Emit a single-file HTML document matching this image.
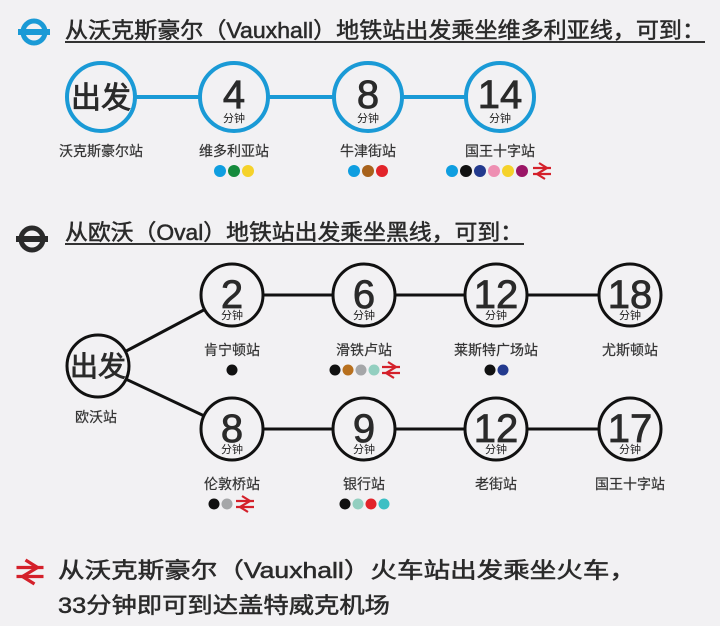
<!DOCTYPE html>
<html><head><meta charset="utf-8"><style>
html,body{margin:0;padding:0;background:#f2f1f3;}
svg{display:block;}
text{font-family:"Liberation Sans","Noto Sans CJK SC",sans-serif;fill:#222;}
.t{font-size:22px;fill:#2a2a2a;stroke:#2a2a2a;stroke-width:0.5;}
.n{font-size:40px;text-anchor:middle;fill:#2a2a2a;stroke:#2a2a2a;stroke-width:0.8;}
.s{font-size:11px;text-anchor:middle;}
.l{font-size:14px;text-anchor:middle;fill:#333;stroke:#333;stroke-width:0.2;}
</style></head><body>
<svg width="720" height="626" viewBox="0 0 720 626" xmlns="http://www.w3.org/2000/svg">
<defs>
<g id="rail">
<path d="M-9,-3 H9 M-9,3 H9" stroke="#d4202a" stroke-width="2.2" fill="none"/>
<path d="M-3,-8 L5,-3 L-5,3 L3,8" stroke="#d4202a" stroke-width="2.2" fill="none"/>
</g>
</defs>
<!-- Section 1 -->
<g>
<circle cx="34" cy="32" r="11" fill="none" stroke="#1a9ad6" stroke-width="5"/>
<rect x="18" y="29" width="32" height="6" fill="#1a9ad6"/>
</g>
<text class="t" x="65" y="38" textLength="640" lengthAdjust="spacingAndGlyphs">从沃克斯豪尔（Vauxhall）地铁站出发乘坐维多利亚线，可到：</text>
<line x1="65" y1="42" x2="705" y2="42" stroke="#333" stroke-width="2"/>
<line x1="101" y1="97" x2="500" y2="97" stroke="#1a9ad6" stroke-width="4"/>
<g fill="#f2f1f3" stroke="#1a9ad6" stroke-width="4">
<circle cx="101" cy="97" r="34"/><circle cx="234" cy="97" r="34"/><circle cx="368" cy="97" r="34"/><circle cx="500" cy="97" r="34"/>
</g>
<text x="101" y="108" style="font-size:30px;text-anchor:middle;fill:#2a2a2a;stroke:#2a2a2a;stroke-width:0.8">出发</text>
<text class="n" x="234" y="108">4</text><text class="s" x="234" y="122">分钟</text>
<text class="n" x="368" y="108">8</text><text class="s" x="368" y="122">分钟</text>
<text class="n" x="500" y="108">14</text><text class="s" x="500" y="122">分钟</text>
<text class="l" x="101" y="156">沃克斯豪尔站</text>
<text class="l" x="234" y="156">维多利亚站</text>
<text class="l" x="368" y="156">牛津街站</text>
<text class="l" x="500" y="156">国王十字站</text>
<circle cx="220" cy="171" r="6" fill="#0f9ee0"/><circle cx="234" cy="171" r="6" fill="#158a3c"/><circle cx="248" cy="171" r="6" fill="#f5d22a"/>
<circle cx="354" cy="171" r="6" fill="#0f9ee0"/><circle cx="368" cy="171" r="6" fill="#a8621b"/><circle cx="382" cy="171" r="6" fill="#e2242a"/>
<circle cx="452" cy="171" r="6" fill="#0f9ee0"/><circle cx="466" cy="171" r="6" fill="#111"/><circle cx="480" cy="171" r="6" fill="#233a8e"/><circle cx="494" cy="171" r="6" fill="#ee8fb2"/><circle cx="508" cy="171" r="6" fill="#f5d22a"/><circle cx="522" cy="171" r="6" fill="#9b1566"/>
<use href="#rail" x="542" y="171"/>
<!-- Section 2 -->
<g>
<circle cx="32" cy="239" r="11" fill="none" stroke="#2a2a2a" stroke-width="5"/>
<rect x="16" y="236" width="32" height="6" fill="#2a2a2a"/>
</g>
<text class="t" x="65" y="240" textLength="458" lengthAdjust="spacingAndGlyphs">从欧沃（Oval）地铁站出发乘坐黑线，可到：</text>
<line x1="65" y1="244" x2="524" y2="244" stroke="#333" stroke-width="2"/>
<g stroke="#111" stroke-width="3" fill="none">
<line x1="98" y1="366" x2="232" y2="295"/><line x1="98" y1="366" x2="232" y2="429"/>
<line x1="232" y1="295" x2="630" y2="295"/><line x1="232" y1="429" x2="630" y2="429"/>
</g>
<g fill="#f2f1f3" stroke="#111" stroke-width="3">
<circle cx="98" cy="366" r="31"/>
<circle cx="232" cy="295" r="31"/><circle cx="364" cy="295" r="31"/><circle cx="496" cy="295" r="31"/><circle cx="630" cy="295" r="31"/>
<circle cx="232" cy="429" r="31"/><circle cx="364" cy="429" r="31"/><circle cx="496" cy="429" r="31"/><circle cx="630" cy="429" r="31"/>
</g>
<text x="98" y="376" style="font-size:28px;text-anchor:middle;fill:#2a2a2a;stroke:#2a2a2a;stroke-width:0.8">出发</text>
<g>
<text class="n" x="232" y="308">2</text><text class="s" x="232" y="319">分钟</text>
<text class="n" x="364" y="308">6</text><text class="s" x="364" y="319">分钟</text>
<text class="n" x="496" y="308">12</text><text class="s" x="496" y="319">分钟</text>
<text class="n" x="630" y="308">18</text><text class="s" x="630" y="319">分钟</text>
<text class="n" x="232" y="442">8</text><text class="s" x="232" y="453">分钟</text>
<text class="n" x="364" y="442">9</text><text class="s" x="364" y="453">分钟</text>
<text class="n" x="496" y="442">12</text><text class="s" x="496" y="453">分钟</text>
<text class="n" x="630" y="442">17</text><text class="s" x="630" y="453">分钟</text>
</g>
<text class="l" x="96" y="422">欧沃站</text>
<text class="l" x="232" y="355">肯宁顿站</text>
<text class="l" x="364" y="355">滑铁卢站</text>
<text class="l" x="496" y="355">莱斯特广场站</text>
<text class="l" x="630" y="355">尤斯顿站</text>
<text class="l" x="232" y="489">伦敦桥站</text>
<text class="l" x="364" y="489">银行站</text>
<text class="l" x="496" y="489">老街站</text>
<text class="l" x="630" y="489">国王十字站</text>
<circle cx="232" cy="370" r="5.5" fill="#111"/>
<circle cx="335" cy="370" r="5.5" fill="#111"/><circle cx="348" cy="370" r="5.5" fill="#b8701e"/><circle cx="361" cy="370" r="5.5" fill="#a5a6a8"/><circle cx="374" cy="370" r="5.5" fill="#93cfc0"/>
<use href="#rail" x="391" y="370"/>
<circle cx="490" cy="370" r="5.5" fill="#111"/><circle cx="503" cy="370" r="5.5" fill="#233a8e"/>
<circle cx="214" cy="504" r="5.5" fill="#111"/><circle cx="227" cy="504" r="5.5" fill="#a5a6a8"/>
<use href="#rail" x="245" y="504"/>
<circle cx="345" cy="504" r="5.5" fill="#111"/><circle cx="358" cy="504" r="5.5" fill="#93cfc0"/><circle cx="371" cy="504" r="5.5" fill="#e2242a"/><circle cx="384" cy="504" r="5.5" fill="#3cbfc4"/>
<!-- Section 3 -->
<g transform="translate(30,572) scale(1.5)"><use href="#rail"/></g>
<text class="t" x="58" y="578" textLength="578" lengthAdjust="spacingAndGlyphs">从沃克斯豪尔（Vauxhall）火车站出发乘坐火车，</text>
<text class="t" x="58" y="613" textLength="332" lengthAdjust="spacingAndGlyphs">33分钟即可到达盖特威克机场</text>
</svg>
</body></html>
